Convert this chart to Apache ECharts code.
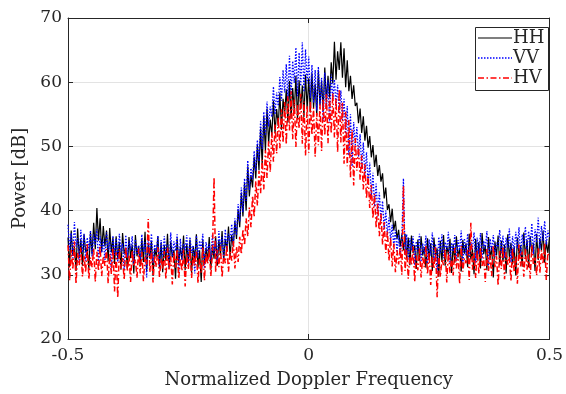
<!DOCTYPE html>
<html>
<head>
<meta charset="utf-8">
<script src="https://cdn.jsdelivr.net/npm/echarts@6/dist/echarts.min.js"></script>
<style>
html,body{margin:0;padding:0;background:#fff;}
#chart{width:566px;height:394px;}
</style>
</head>
<body>
<div id="chart"></div>
<script>
// Frequency grid: 301 points from -0.5 to 0.5
const nPoints = 301;
const freqStart = -0.5;
const freqEnd = 0.5;

const seriesNames = ['HH', 'VV', 'HV'];

const powerHH = [
35.8,31.2,36.9,33.0,34.4,30.6,37.2,32.8,35.5,31.4,36.3,33.6,34.0,30.9,36.6,
33.2,38.1,34.0,40.4,35.3,38.8,33.6,37.6,34.4,36.9,32.1,37.3,33.5,35.8,31.7,
36.0,32.4,35.1,30.8,36.5,33.3,34.2,31.0,35.9,32.6,34.7,30.2,36.2,32.9,34.5,
31.3,35.6,32.0,36.7,30.5,34.8,32.5,35.3,29.8,34.1,32.8,36.0,31.1,35.0,30.4,
34.6,32.2,36.4,30.9,35.2,32.7,33.9,29.4,35.7,31.8,34.3,32.4,36.1,30.7,34.8,
32.0,35.5,30.3,34.4,32.6,36.3,31.2,33.8,28.9,35.4,31.6,34.2,32.1,35.9,30.8,
34.7,32.5,36.0,31.4,35.4,33.0,36.8,32.2,35.6,33.9,37.5,32.8,36.2,34.4,38.3,
35.6,40.2,37.4,42.8,39.1,44.3,40.0,46.9,42.2,45.5,43.6,48.4,45.0,50.2,46.3,
52.8,47.1,54.6,49.3,55.9,50.4,54.2,51.7,57.1,52.0,55.8,53.2,58.3,52.6,57.4,
55.0,58.9,53.7,60.2,54.3,59.1,55.4,61.0,54.2,60.3,55.8,59.5,54.6,61.2,55.9,
60.6,55.3,61.4,56.0,59.7,54.8,61.9,56.4,60.2,55.5,62.3,56.9,61.0,57.6,63.1,
59.8,66.3,60.4,64.8,61.9,66.2,60.7,65.3,59.2,63.4,58.6,61.0,57.4,59.5,56.3,
56.8,53.6,55.9,52.1,54.7,50.9,53.2,49.8,51.6,48.3,50.2,46.8,48.7,45.4,47.1,
44.5,45.8,41.9,43.6,40.1,41.0,38.2,40.3,36.9,38.4,35.6,37.0,34.4,36.3,33.8,
36.4,32.6,35.8,31.5,36.1,33.4,34.6,30.9,35.5,32.2,36.0,33.0,34.3,31.1,35.7,
32.5,34.9,30.6,35.8,32.9,34.1,29.7,35.3,32.0,36.2,31.4,34.5,33.1,35.6,30.3,
34.8,31.9,36.0,32.7,34.2,30.5,35.4,33.3,34.9,31.2,36.4,32.4,34.0,30.1,35.6,
32.3,35.1,31.0,36.5,33.2,34.6,30.7,35.9,32.6,34.3,29.6,35.2,33.0,36.1,31.5,
35.3,32.1,34.7,30.2,36.3,32.8,35.0,31.6,34.4,29.9,35.8,33.1,34.6,31.3,36.6,
32.7,35.4,31.2,36.0,33.5,34.9,30.6,36.4,32.3,35.7,33.8,36.9,31.9,35.2,33.4,
35.9
];

const powerVV = [
37.8,33.9,36.5,32.6,38.2,34.4,35.7,31.9,37.0,33.5,36.4,32.2,35.8,33.8,36.9,
32.8,36.3,34.6,37.1,31.9,36.0,33.4,35.5,32.3,36.6,33.9,35.2,30.8,36.1,33.1,
35.7,32.0,36.4,33.6,34.9,30.7,36.2,32.8,35.3,33.9,36.0,31.6,35.5,33.2,34.6,
32.4,36.3,33.5,35.1,29.6,35.8,33.0,36.4,31.8,34.7,33.6,36.1,30.9,35.4,32.7,
36.0,33.2,34.8,31.1,36.6,32.9,35.2,33.7,36.3,30.4,35.6,32.3,34.9,33.8,36.2,
31.5,35.9,33.4,34.6,30.2,36.1,32.7,35.3,33.9,36.4,31.0,35.1,33.6,34.8,32.4,
36.3,33.1,35.4,32.0,36.8,34.0,35.9,32.7,37.1,33.8,36.4,35.2,37.9,34.5,38.8,
36.2,41.0,38.3,43.6,39.8,45.0,41.5,47.8,43.2,46.6,44.9,49.3,46.2,51.0,47.7,
53.9,49.6,55.4,51.7,57.0,53.1,56.2,54.6,59.3,55.0,58.4,56.3,60.8,57.1,61.9,
58.4,62.8,57.2,64.1,58.0,63.3,59.9,65.4,57.8,64.6,59.4,66.2,58.5,65.1,59.8,
64.0,57.6,62.7,56.8,61.9,55.6,62.4,56.3,60.7,54.0,61.5,56.1,60.3,53.7,61.2,
57.4,60.4,56.2,59.6,55.1,58.7,53.9,57.4,52.0,56.3,48.6,55.0,46.9,53.8,50.2,
53.0,48.4,51.9,46.7,50.6,45.2,49.1,44.0,47.5,42.3,45.9,40.6,44.2,39.1,42.8,
38.3,41.5,37.1,40.0,36.2,38.9,35.3,37.8,34.4,37.0,33.5,36.2,32.9,35.6,45.0,
33.1,36.3,32.4,35.7,33.8,36.0,31.5,35.2,33.6,36.4,32.0,34.9,33.3,36.1,31.7,
35.5,33.0,36.6,32.3,34.8,30.2,35.9,33.4,36.3,32.6,35.1,33.9,36.7,31.8,35.0,
33.6,36.2,32.1,35.4,33.8,36.9,31.3,35.7,33.0,36.4,32.7,35.1,34.0,36.6,31.9,
35.8,33.2,36.5,32.5,35.3,34.1,36.8,31.4,35.6,33.7,36.2,32.8,35.0,34.3,37.0,
33.4,36.1,32.6,35.8,34.2,37.2,32.0,36.0,33.5,36.7,34.1,37.4,32.9,36.3,34.6,
37.5,33.9,36.8,34.4,38.0,33.2,37.1,35.0,38.9,34.1,37.6,35.3,38.4,34.7,36.9,
35.8
];

const powerHV = [
34.6,29.1,33.9,30.8,35.2,28.6,33.4,31.5,34.3,29.7,33.0,30.4,34.8,29.3,32.7,
31.2,34.1,28.9,33.6,30.6,34.5,29.8,32.9,31.4,34.0,28.7,33.3,30.1,34.2,27.4,
33.5,26.4,34.0,31.0,32.6,29.2,34.4,30.5,33.1,28.9,33.8,31.3,32.4,29.5,34.1,
30.2,33.6,29.0,32.8,31.6,38.7,30.4,33.9,28.8,33.0,31.2,34.3,29.6,32.5,30.9,
33.7,29.3,34.2,30.7,32.9,28.5,33.5,31.1,34.0,29.4,32.6,30.6,33.9,28.2,33.2,
30.9,34.1,29.5,33.0,31.4,33.8,28.7,32.7,30.3,34.4,29.1,33.3,31.7,34.0,29.8,
33.4,45.2,30.4,33.9,31.2,34.5,29.6,33.1,31.8,34.7,30.5,33.6,32.2,35.3,31.0,
34.4,32.0,35.9,33.2,37.1,34.6,38.8,36.0,40.5,37.4,42.3,39.0,44.6,40.8,46.2,
42.7,47.9,43.3,49.4,45.1,50.8,46.0,52.2,47.6,53.4,48.9,54.6,49.7,55.8,50.6,
56.9,50.3,57.8,52.5,58.6,51.1,57.3,49.9,56.6,52.8,58.2,50.4,57.0,48.6,56.3,
49.0,57.1,51.8,56.0,48.4,55.2,50.2,56.6,49.3,57.4,51.7,58.1,50.5,57.6,52.0,
58.3,51.4,57.5,49.1,58.9,50.6,56.8,47.3,55.4,46.9,54.1,45.2,52.6,43.9,51.3,
46.2,50.1,44.8,48.6,43.3,47.2,41.9,45.5,40.4,44.0,38.8,42.6,37.3,41.1,36.0,
39.6,34.7,38.2,33.4,36.9,32.2,35.8,31.3,34.9,30.4,33.8,31.6,34.3,30.0,43.9,
30.6,33.9,29.4,33.2,31.5,34.4,28.9,33.0,30.7,34.1,29.6,32.8,31.2,34.6,30.1,
33.5,28.4,32.9,30.9,34.3,26.5,33.1,29.7,32.4,31.5,34.0,28.8,33.6,30.3,32.7,
29.9,34.2,31.0,33.3,28.6,34.5,30.5,32.6,31.8,33.9,29.2,38.1,30.8,33.4,29.5,
33.8,30.2,34.3,31.4,32.7,28.9,34.0,30.6,33.1,29.8,34.6,31.2,32.9,28.3,33.7,
30.9,34.4,29.3,33.5,31.6,32.8,29.0,34.2,30.4,33.0,28.6,34.7,31.3,33.6,29.7,
34.0,30.8,33.2,29.4,34.6,31.5,32.7,29.9,34.3,30.3,33.8,31.7,34.9,29.2,33.4,
32.8
];

const xTicks = [-0.5, 0, 0.5];
const yTicks = [20, 30, 40, 50, 60, 70];

[powerHH, powerVV, powerHV].forEach((a, k) => {
  if (a.length !== nPoints) throw new Error(seriesNames[k] + ' has ' + a.length + ' points');
});

function pairs(vals) {
  return vals.map((v, i) => [freqStart + (freqEnd - freqStart) * i / (nPoints - 1), v]);
}

const FONT = 'DejaVu Serif';
const TXT = '#262626';
const COLORS = {HH: '#000000', VV: '#0000ff', HV: '#ff0000'};
const STYLES = {
  HH: {width: 1.2, type: 'solid'},
  VV: {width: 1.3, type: [1.5, 1.5]},
  HV: {width: 1.5, type: [6, 2.5, 1.5, 2.5]}
};

const chart = echarts.init(document.getElementById('chart'), null, {renderer: 'canvas'});

const axisLineStyle = {show: true, onZero: false, lineStyle: {color: '#262626', width: 1}};
const tickStyle = {show: true, inside: true, length: 5, lineStyle: {color: '#262626'}};

// legend drawn as graphic elements (box, line samples, labels)
const legendX = 475, legendY = 27, legendW = 73, legendH = 63, rowH = 20;
const legendGraphic = [{
  type: 'rect', left: legendX, top: legendY, z: 100,
  shape: {width: legendW, height: legendH},
  style: {fill: '#fff', stroke: '#262626', lineWidth: 1}
}];
seriesNames.forEach((n, k) => {
  const cy = legendY + 11 + k * rowH;
  legendGraphic.push({
    type: 'line', z: 101,
    shape: {x1: legendX + 3, y1: cy, x2: legendX + 37, y2: cy},
    style: {stroke: COLORS[n], lineWidth: STYLES[n].width, lineDash: STYLES[n].type === 'solid' ? null : STYLES[n].type}
  });
  legendGraphic.push({
    type: 'text', z: 101, x: legendX + 38, y: cy,
    style: {text: n, fontFamily: FONT, fontSize: 18, fill: TXT, verticalAlign: 'middle', align: 'left'}
  });
});

chart.setOption({
  animation: false,
  backgroundColor: '#fff',
  grid: {left: 68, right: 13, top: 18, bottom: 53, containLabel: false},
  graphic: legendGraphic,
  xAxis: [{
    type: 'value',
    min: -0.5, max: 0.5, interval: 0.5,
    axisLine: axisLineStyle,
    axisTick: tickStyle,
    axisLabel: {fontFamily: FONT, fontSize: 17, color: TXT, margin: 8,
      formatter: v => (xTicks.includes(v) ? String(v) : '')},
    splitLine: {show: true, lineStyle: {color: '#e3e3e3', width: 1}},
    name: 'Normalized Doppler Frequency',
    nameLocation: 'middle',
    nameGap: 32,
    nameTextStyle: {fontFamily: FONT, fontSize: 18, color: TXT}
  }, {
    type: 'value', position: 'top',
    min: -0.5, max: 0.5, interval: 0.5,
    axisLine: axisLineStyle,
    axisTick: tickStyle,
    axisLabel: {show: false}, splitLine: {show: false}
  }],
  yAxis: [{
    type: 'value',
    min: 20, max: 70, interval: 10,
    axisLine: axisLineStyle,
    axisTick: tickStyle,
    axisLabel: {fontFamily: FONT, fontSize: 17, color: TXT, margin: 6,
      formatter: v => (yTicks.includes(v) ? String(v) : '')},
    splitLine: {show: true, lineStyle: {color: '#e3e3e3', width: 1}},
    name: 'Power [dB]',
    nameLocation: 'middle',
    nameGap: 23,
    nameTextStyle: {fontFamily: FONT, fontSize: 18, color: TXT}
  }, {
    type: 'value', position: 'right',
    min: 20, max: 70, interval: 10,
    axisLine: axisLineStyle,
    axisTick: tickStyle,
    axisLabel: {show: false}, splitLine: {show: false}
  }],
  series: seriesNames.map((n, k) => ({
    name: n, type: 'line',
    data: pairs([powerHH, powerVV, powerHV][k]),
    symbol: 'none', showSymbol: false,
    lineStyle: {color: COLORS[n], width: STYLES[n].width, type: STYLES[n].type},
    itemStyle: {color: COLORS[n]},
    z: 2 + k
  }))
});
</script>
</body>
</html>
